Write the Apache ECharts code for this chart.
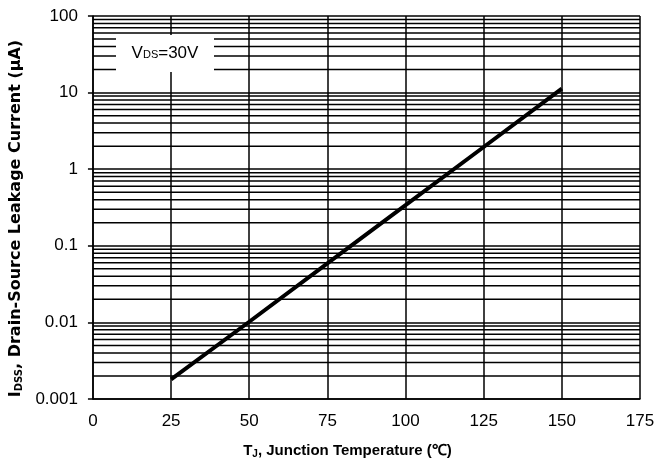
<!DOCTYPE html>
<html>
<head>
    <meta charset="utf-8">
    <style>
        html, body { margin: 0; padding: 0; background: #fff; }
        #chart { width: 670px; height: 464px; }
    </style>
    <script src="https://cdn.jsdelivr.net/npm/echarts@6/dist/echarts.min.js"></script>
</head>
<body>
    <div id="chart"></div>
    <script type="text/javascript">
        // junction temperature (°C) and leakage current (µA)
        var tempC = [25, 50, 75, 100, 125, 150];
        var idssUA = [0.0018, 0.0102, 0.059, 0.34, 1.95, 11.3];
        var xTicks = [0, 25, 50, 75, 100, 125, 150, 175];
        var yDecades = [0.001, 0.01, 0.1, 1, 10, 100];
        var yTickLabels = ['0.001', '0.01', '0.1', '1', '10', '100'];
        var minorSteps = [2, 3, 4, 5, 6, 7, 8, 9];

        var font = 'Liberation Sans, Arial, sans-serif';
        var wide = 'DejaVu Sans, sans-serif';
        var xMin = xTicks[0], xMax = xTicks[xTicks.length - 1];

        // minor log grid lines (2..9 in every decade), drawn as flat line series
        var minorSeries = [];
        yDecades.slice(0, -1).forEach(function (d) {
            minorSteps.forEach(function (k) {
                var v = +(d * k).toPrecision(3);
                minorSeries.push({
                    type: 'line',
                    data: [[xMin, v], [xMax, v]],
                    symbol: 'none',
                    silent: true,
                    lineStyle: { color: '#000', width: 1.5 },
                    z: 2
                });
            });
        });

        var myChart = echarts.init(document.getElementById('chart'), null, { renderer: 'canvas' });
        myChart.setOption({
            animation: false,
            backgroundColor: '#fff',
            grid: { left: 92, right: 30, top: 16, bottom: 64 },
            xAxis: {
                type: 'value',
                min: xMin,
                max: xMax,
                interval: 25,
                name: '{b|T}{s|J}{b|, Junction Temperature (℃)}',
                nameLocation: 'middle',
                nameGap: 43,
                nameTextStyle: {
                    padding: [0, 38, 0, 0],
                    rich: {
                        b: { fontFamily: font, fontWeight: 'bold', fontSize: 15, color: '#000' },
                        s: { fontFamily: font, fontWeight: 'bold', fontSize: 10, color: '#000', padding: [7, 0, 0, 0] }
                    }
                },
                axisLine: { onZero: false, lineStyle: { color: '#000', width: 1.5 } },
                axisTick: { show: false },
                axisLabel: { color: '#000', fontFamily: font, fontSize: 17, margin: 14 },
                splitLine: { show: true, lineStyle: { color: '#000', width: 1.5 } }
            },
            yAxis: {
                type: 'log',
                logBase: 10,
                min: yDecades[0],
                max: yDecades[yDecades.length - 1],
                name: '{b|I}{s|DSS}{b|, Drain-Source Leakage Current (μA)}',
                nameLocation: 'middle',
                nameGap: 61,
                nameTextStyle: {
                    padding: [0, 22, 0, 0],
                    rich: {
                        b: { fontFamily: wide, fontWeight: 'bold', fontSize: 16, color: '#000' },
                        s: { fontFamily: wide, fontWeight: 'bold', fontSize: 10, color: '#000', padding: [7, 0, 0, 0] }
                    }
                },
                axisLine: { show: true, lineStyle: { color: '#000', width: 1.5 } },
                axisTick: { show: true, inside: false, length: 5, lineStyle: { color: '#000', width: 1.5 } },
                axisLabel: {
                    color: '#000', fontFamily: font, fontSize: 17, margin: 15,
                    formatter: function (v) {
                        var i = yDecades.findIndex(function (d) { return Math.abs(Math.log10(d) - Math.log10(v)) < 1e-6; });
                        return i >= 0 ? yTickLabels[i] : '';
                    }
                },
                splitLine: { show: true, lineStyle: { color: '#000', width: 1.5 } }
            },
            graphic: [{
                type: 'rect',
                left: 116,
                top: 35,
                z: 100,
                shape: { width: 98, height: 37 },
                style: { fill: '#fff' }
            }, {
                type: 'text',
                x: 165,
                y: 53,
                z: 101,
                style: {
                    text: '{v|V}{s|DS}{v|=30V}',
                    align: 'center',
                    verticalAlign: 'middle',
                    rich: {
                        v: { fontFamily: font, fontSize: 17, fill: '#000' },
                        s: { fontFamily: font, fontSize: 11, fill: '#000', padding: [4, 0, 0, 0] }
                    }
                }
            }],
            series: [{
                type: 'line',
                data: tempC.map(function (t, i) { return [t, idssUA[i]]; }),
                symbol: 'none',
                lineStyle: { color: '#000', width: 4 },
                z: 10
            }].concat(minorSeries)
        });
    </script>
</body>
</html>
